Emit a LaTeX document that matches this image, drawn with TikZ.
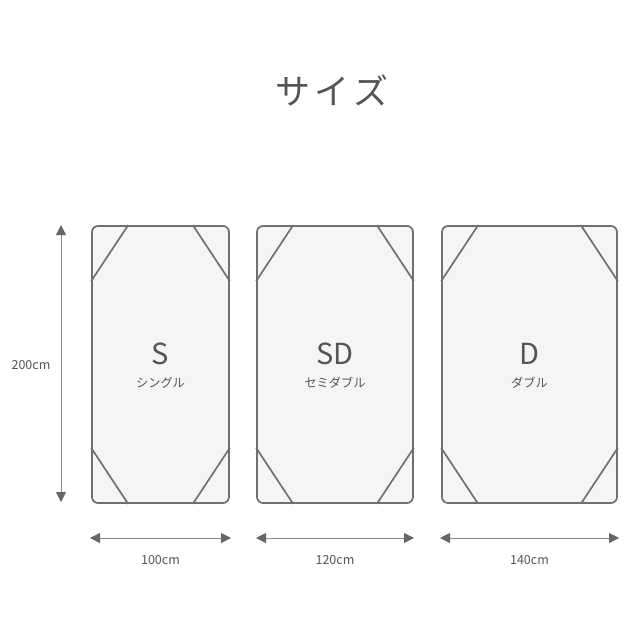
\documentclass[tikz,border=0pt]{standalone}
\usepackage{fontspec}
\setmainfont{Noto Sans CJK JP}
\usetikzlibrary{arrows.meta,calc}
\definecolor{boxline}{HTML}{707070}
\definecolor{boxfill}{HTML}{F5F5F5}
\definecolor{txt}{HTML}{555555}
\definecolor{arr}{HTML}{8A8A8A}
\definecolor{tip}{HTML}{666666}
\tikzset{
  bed/.style={draw=boxline, fill=boxfill, line width=1.7pt, rounded corners=6pt, minimum height=277pt, inner sep=0pt},
  diag/.style={draw=boxline, line width=1.7pt},
  big/.style={text=txt, font=\fontsize{29}{30}\selectfont, inner sep=0pt},
  small/.style={text=txt, font=\fontsize{12.2}{14}\selectfont, inner sep=0pt},
  dimarrow/.style={draw=arr, line width=1pt, {Triangle[length=10pt,width=10pt,color=tip]}-{Triangle[length=10pt,width=10pt,color=tip]}},
  dimlabel/.style={text=txt, font=\fontsize{12.5}{14}\selectfont, inner sep=0pt}
}
\begin{document}
\begin{tikzpicture}[x=1pt,y=-1pt]
\useasboundingbox (0,0) rectangle (640,640);
\node[text=txt, font=\fontsize{35}{38}\selectfont, inner sep=0pt] (title) at (332,90) {サ\hspace{0.12em}イ\hspace{0.12em}ズ};
% beds
\node[bed, minimum width=137pt] (bS) at (160.5,364.5) {};
\node[bed, minimum width=156pt] (bSD) at (335,364.5) {};
\node[bed, minimum width=175pt] (bD) at (529.5,364.5) {};
\foreach \b in {bS,bSD,bD}{
  \draw[diag] ($(\b.north west)+(37,0)$) -- ($(\b.north west)+(0,56)$);
  \draw[diag] ($(\b.north east)+(-37,0)$) -- ($(\b.north east)+(0,56)$);
  \draw[diag] ($(\b.south west)+(37,0)$) -- ($(\b.south west)+(0,-56)$);
  \draw[diag] ($(\b.south east)+(-37,0)$) -- ($(\b.south east)+(0,-56)$);
}
\node[big] (tS) at (160.5,354) {S};
\node[small] (lS) at (160.5,383) {シングル};
\node[big] (tSD) at (335,354) {SD};
\node[small] (lSD) at (335,383) {セミダブル};
\node[big] (tD) at (529.5,354) {D};
\node[small] (lD) at (529.5,383) {ダブル};
% vertical dimension
\coordinate (vt) at (61,225);
\coordinate (vb) at (61,502);
\draw[dimarrow] (vt) -- (vb);
\node[dimlabel] (v) at (31,365) {200cm};
% horizontal dimensions
\coordinate (h1a) at (90,538); \coordinate (h1b) at (231,538);
\coordinate (h2a) at (256,538); \coordinate (h2b) at (414,538);
\coordinate (h3a) at (440,538); \coordinate (h3b) at (619,538);
\draw[dimarrow] (h1a) -- (h1b);
\draw[dimarrow] (h2a) -- (h2b);
\draw[dimarrow] (h3a) -- (h3b);
\node[dimlabel] (d1) at (160.5,560) {100cm};
\node[dimlabel] (d2) at (335,560) {120cm};
\node[dimlabel] (d3) at (529.5,560) {140cm};
\end{tikzpicture}
\end{document}
